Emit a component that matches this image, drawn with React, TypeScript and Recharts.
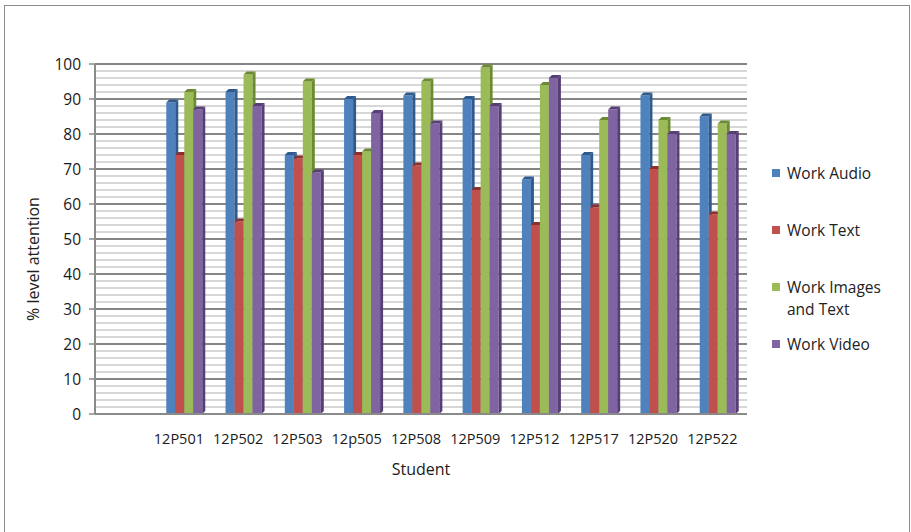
import { BarChart, Bar, XAxis, YAxis, CartesianGrid, Label } from "recharts";

// first slot of the category axis is empty in the original chart
const students = ["", "12P501", "12P502", "12P503", "12p505", "12P508", "12P509", "12P512", "12P517", "12P520", "12P522"];
const workAudio = [null, 89, 92, 74, 90, 91, 90, 67, 74, 91, 85];
const workText = [null, 74, 55, 73, 74, 71, 64, 54, 59, 70, 57];
const workImagesText = [null, 92, 97, 95, 75, 95, 99, 94, 84, 84, 83];
const workVideo = [null, 87, 88, 69, 86, 83, 88, 96, 87, 80, 80];
const yTicks = [0, 10, 20, 30, 40, 50, 60, 70, 80, 90, 100];
const minorLines = Array.from({ length: 51 }, (_, i) => i * 2);

const series = [
  { key: "audio", label: "Work Audio", color: "#4F81BD", dark: "#2E5A8E", values: workAudio },
  { key: "text", label: "Work Text", color: "#C0504D", dark: "#8E2F2C", values: workText },
  { key: "images", label: "Work Images and Text", color: "#9BBB59", dark: "#6C8A32", values: workImagesText },
  { key: "video", label: "Work Video", color: "#8064A2", dark: "#563F74", values: workVideo },
];

const data = students.map((name, i) => {
  const row: any = { name };
  series.forEach((s) => (row[s.key] = s.values[i]));
  return row;
});

const FONT = "'Open Sans', sans-serif";

function bar3d(color: string, dark: string) {
  return (props: any) => {
    const { x, y, width, height } = props;
    if (!height || height <= 0) return <g />;
    const d = 3;
    return (
      <g>
        <rect x={x} y={y} width={width} height={height} fill={color} />
        <polygon
          points={`${x + width},${y} ${x + width + d},${y - d} ${x + width + d},${y + height - d} ${x + width},${y + height}`}
          fill={dark}
        />
        <polygon points={`${x},${y} ${x + d},${y - d} ${x + width + d},${y - d} ${x + width},${y}`} fill={dark} />
      </g>
    );
  };
}

// rotated y-axis title, centred a little below the plot middle like the original
const yTitle = (props: any) => {
  const vb = props.viewBox || {};
  const cx = 33;
  const cy = (vb.y ?? 64) + (vb.height ?? 350) / 2 + 20;
  return (
    <text x={cx} y={cy} transform={`rotate(-90 ${cx} ${cy})`} textAnchor="middle" dominantBaseline="central" fill="#222" fontSize={16}>
      % level attention
    </text>
  );
};

function ChartLegend() {
  return (
    <div
      style={{
        position: "absolute",
        left: 772,
        top: 162,
        width: 135,
        fontFamily: FONT,
        fontSize: 15.5,
        color: "#222",
        lineHeight: "22px",
      }}
    >
      {series.map((s) => (
        <div key={s.key} style={{ display: "flex", alignItems: "flex-start", height: 57 }}>
          <span style={{ width: 8, height: 8, background: s.color, marginTop: 7, marginRight: 7, flexShrink: 0 }} />
          <span>{s.label}</span>
        </div>
      ))}
    </div>
  );
}

export default function App() {
  return (
    <div style={{ position: "absolute", left: 0, top: 0, width: 911, height: 532, background: "#fff", overflow: "hidden" }}>
      <div
        style={{
          position: "absolute",
          left: 4,
          top: 5,
          width: 904,
          height: 540,
          borderLeft: "1.5px solid #8c8c8c",
          borderTop: "1.5px solid #8c8c8c",
          borderRight: "1.5px solid #8c8c8c",
        }}
      />
      <BarChart
        width={911}
        height={532}
        data={data}
        margin={{ top: 64, right: 164, left: 20, bottom: 88 }}
        barGap={0}
        barSize={9}
        style={{ position: "absolute", left: 0, top: 0, fontFamily: FONT }}
      >
        <CartesianGrid vertical={false} horizontalValues={minorLines} stroke="#b0b0b0" strokeWidth={1.2} />
        <CartesianGrid vertical={false} horizontalValues={yTicks} stroke="#858585" strokeWidth={1.8} />
        <XAxis
          dataKey="name"
          interval={0}
          height={30}
          tickLine={false}
          axisLine={{ stroke: "#8a8a8a", strokeWidth: 2 }}
          tick={{ fill: "#1a1a1a", fontSize: 14.5, dx: -5 }}
          tickMargin={14}
        >
          <Label value="Student" position="insideBottom" offset={-31} fill="#1a1a1a" fontSize={16} />
        </XAxis>
        <YAxis
          domain={[0, 100]}
          ticks={yTicks}
          interval={0}
          width={75}
          tickSize={6}
          tickMargin={8}
          axisLine={{ stroke: "#8a8a8a", strokeWidth: 2 }}
          tickLine={{ stroke: "#8a8a8a", strokeWidth: 1.5 }}
          tick={{ fill: "#1a1a1a", fontSize: 15.5 }}
        >
          <Label content={yTitle} />
        </YAxis>
        {series.map((s) => (
          <Bar
            key={s.key}
            dataKey={s.key}
            name={s.label}
            fill={s.color}
            shape={bar3d(s.color, s.dark)}
            isAnimationActive={false}
          />
        ))}
      </BarChart>
      <ChartLegend />
    </div>
  );
}
